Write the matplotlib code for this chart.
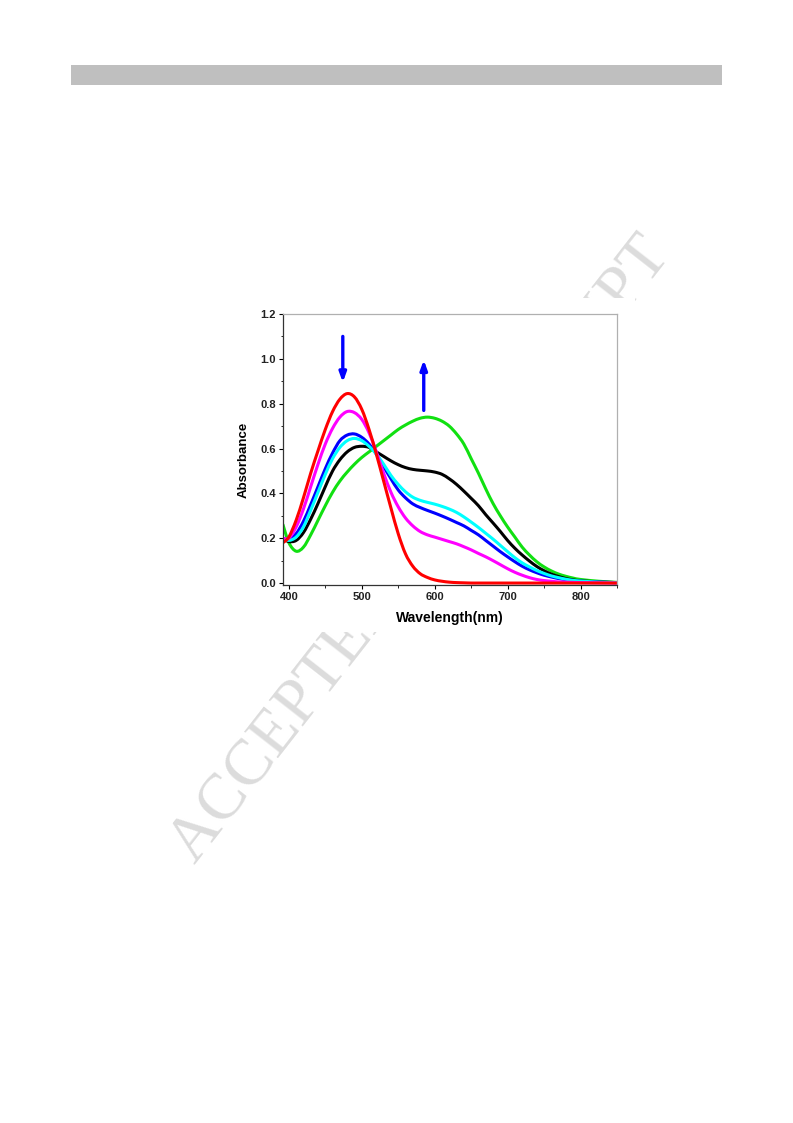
import numpy as np
import matplotlib
matplotlib.use("Agg")
import matplotlib.pyplot as plt
from matplotlib.patches import Rectangle, PathPatch
from matplotlib.path import Path
from matplotlib.ticker import MultipleLocator, FormatStrFormatter

# ---------------- data ----------------
wavelength = [392, 400, 410, 420, 430, 440, 450, 460, 470, 480, 490, 500, 510, 520,
              530, 540, 550, 560, 570, 580, 590, 600, 610, 620, 630, 640, 650, 660,
              670, 680, 690, 700, 710, 720, 730, 740, 750, 760, 770, 780, 790, 800,
              825, 850]

red = [0.18, 0.205, 0.28, 0.38, 0.49, 0.59, 0.685, 0.765, 0.82, 0.845, 0.83, 0.775,
       0.685, 0.575, 0.455, 0.335, 0.22, 0.13, 0.075, 0.042, 0.025, 0.014, 0.008,
       0.004, 0.002, 0.001, 0.0, 0.0, 0.0, 0.0, 0.0, 0.0, 0.0, 0.0, 0.0, 0.0, 0.0,
       0.0, 0.0, 0.0, 0.0, 0.0, 0.0, 0.0]

magenta = [0.20, 0.20, 0.25, 0.33, 0.43, 0.53, 0.62, 0.69, 0.74, 0.765, 0.76, 0.73,
           0.67, 0.585, 0.49, 0.405, 0.34, 0.29, 0.255, 0.23, 0.215, 0.205, 0.195,
           0.185, 0.175, 0.162, 0.148, 0.132, 0.117, 0.10, 0.082, 0.064, 0.048,
           0.035, 0.024, 0.016, 0.011, 0.008, 0.005, 0.004, 0.003, 0.002, 0.001, 0.0]

blue = [0.20, 0.195, 0.22, 0.275, 0.35, 0.43, 0.51, 0.58, 0.635, 0.66, 0.665, 0.65,
        0.62, 0.575, 0.52, 0.465, 0.415, 0.38, 0.353, 0.337, 0.324, 0.312, 0.299,
        0.285, 0.27, 0.255, 0.235, 0.215, 0.19, 0.165, 0.14, 0.117, 0.095, 0.075,
        0.059, 0.046, 0.035, 0.027, 0.02, 0.015, 0.011, 0.008, 0.004, 0.002]

cyan = [0.20, 0.19, 0.205, 0.25, 0.325, 0.405, 0.485, 0.555, 0.605, 0.635, 0.645,
        0.635, 0.61, 0.575, 0.53, 0.48, 0.44, 0.407, 0.383, 0.369, 0.36, 0.352,
        0.342, 0.33, 0.315, 0.295, 0.272, 0.248, 0.222, 0.196, 0.168, 0.14, 0.113,
        0.09, 0.072, 0.056, 0.043, 0.032, 0.024, 0.017, 0.012, 0.009, 0.004, 0.002]

black = [0.20, 0.185, 0.19, 0.225, 0.285, 0.355, 0.43, 0.50, 0.55, 0.585, 0.605,
         0.61, 0.605, 0.585, 0.565, 0.545, 0.528, 0.515, 0.507, 0.503, 0.50, 0.495,
         0.485, 0.465, 0.44, 0.41, 0.378, 0.345, 0.305, 0.268, 0.23, 0.19, 0.155,
         0.125, 0.098, 0.074, 0.055, 0.04, 0.029, 0.02, 0.014, 0.01, 0.005, 0.002]

green = [0.26, 0.18, 0.142, 0.16, 0.215, 0.28, 0.345, 0.405, 0.455, 0.495, 0.53,
         0.56, 0.585, 0.61, 0.635, 0.66, 0.685, 0.705, 0.722, 0.735, 0.74, 0.735,
         0.722, 0.70, 0.665, 0.62, 0.555, 0.49, 0.42, 0.355, 0.30, 0.25, 0.205,
         0.16, 0.125, 0.095, 0.072, 0.054, 0.04, 0.03, 0.022, 0.016, 0.008, 0.003]

series = [("green", green, "#11e011"), ("black", black, "#000000"),
          ("blue", blue, "#0000ff"), ("cyan", cyan, "#00ffff"),
          ("magenta", magenta, "#ff00ff"), ("red", red, "#ff0000")]

xticks = [400, 500, 600, 700, 800]
yticks = [0.0, 0.2, 0.4, 0.6, 0.8, 1.0, 1.2]
down_arrow = (474, 1.10, 0.895)   # x, start, end
up_arrow = (585, 0.77, 0.995)


def smooth_line(ax, x, y, color, lw):
    """Draw the read points as a smooth (Catmull-Rom / Bezier) spline line."""
    p = np.column_stack([x, y]).astype(float)
    n = len(p)
    verts = [p[0]]
    codes = [Path.MOVETO]
    for i in range(n - 1):
        p0 = p[i - 1] if i > 0 else p[i]
        p1 = p[i]
        p2 = p[i + 1]
        p3 = p[i + 2] if i + 2 < n else p[i + 1]
        c1 = p1 + (p2 - p0) / 6.0
        c2 = p2 - (p3 - p1) / 6.0
        verts += [c1, c2, p2]
        codes += [Path.CURVE4] * 3
    patch = PathPatch(Path(verts, codes), fill=False, edgecolor=color, lw=lw,
                      joinstyle="round", capstyle="round",
                      transform=ax.transData)
    ax.add_patch(patch)


# ---------------- figure ----------------
W, H = 793, 1123
fig = plt.figure(figsize=(W / 100, H / 100), dpi=100)
fig.patch.set_facecolor("white")

# header bar
fig.patches.append(Rectangle((71 / W, 1 - 85 / H), (722 - 71) / W, 20 / H,
                             transform=fig.transFigure, facecolor="#bfbfbf",
                             edgecolor="none", zorder=0))

# watermark
fig.text(421 / W, 1 - 550 / H, "ACCEPTED MANUSCRIPT", rotation=52,
         rotation_mode="anchor", ha="center", va="center",
         family="Liberation Serif", fontsize=47, color="#dcdcdc", zorder=0)

# white image area covering the watermark
fig.patches.append(Rectangle((228 / W, 1 - 632 / H), (635 - 228) / W, (632 - 298) / H,
                             transform=fig.transFigure, facecolor="white",
                             edgecolor="none", zorder=0.5))

ax = fig.add_axes([283 / W, 1 - 585 / H, (617 - 283) / W, (585 - 314) / H])
ax.set_zorder(1)

for name, vals, col in series:
    smooth_line(ax, wavelength, vals, col, 2.2)

ax.set_xlim(392, 850)
ax.set_ylim(-0.0087, 1.2)

ax.xaxis.set_minor_locator(MultipleLocator(50))
ax.yaxis.set_minor_locator(MultipleLocator(0.1))
ax.set_xticks(xticks)
ax.set_yticks(yticks)
ax.yaxis.set_major_formatter(FormatStrFormatter("%.1f"))

ax.tick_params(which="major", direction="out", length=3, width=0.8,
               labelsize=8, pad=2, top=False, right=False)
ax.tick_params(which="minor", direction="out", length=1.8, width=0.6,
               top=False, right=False)
for lbl in ax.get_xticklabels() + ax.get_yticklabels():
    lbl.set_fontweight("bold")
    lbl.set_family("Liberation Sans")
    lbl.set_color("#222222")

for side in ("left", "bottom"):
    ax.spines[side].set_color("#333333")
    ax.spines[side].set_linewidth(0.9)
for side in ("top", "right"):
    ax.spines[side].set_color("#b0b0b0")
    ax.spines[side].set_linewidth(0.9)

ax.set_xlabel("Wavelength(nm)", fontsize=10, fontweight="bold",
              family="Liberation Sans")
ax.set_ylabel("Absorbance", fontsize=9.5, fontweight="bold",
              family="Liberation Sans")
ax.xaxis.set_label_coords(0.5, -0.095)
ax.yaxis.set_label_coords(-0.1, 0.46)

ax.annotate("", xy=(down_arrow[0], down_arrow[2]),
            xytext=(down_arrow[0], down_arrow[1]),
            arrowprops=dict(arrowstyle="-|>,head_length=0.55,head_width=0.2",
                            color="#0000ff", lw=2.4, shrinkA=0, shrinkB=0))
ax.annotate("", xy=(up_arrow[0], up_arrow[2]),
            xytext=(up_arrow[0], up_arrow[1]),
            arrowprops=dict(arrowstyle="-|>,head_length=0.55,head_width=0.2",
                            color="#0000ff", lw=2.4, shrinkA=0, shrinkB=0))

fig.savefig("out.png", dpi=100, facecolor="white")
